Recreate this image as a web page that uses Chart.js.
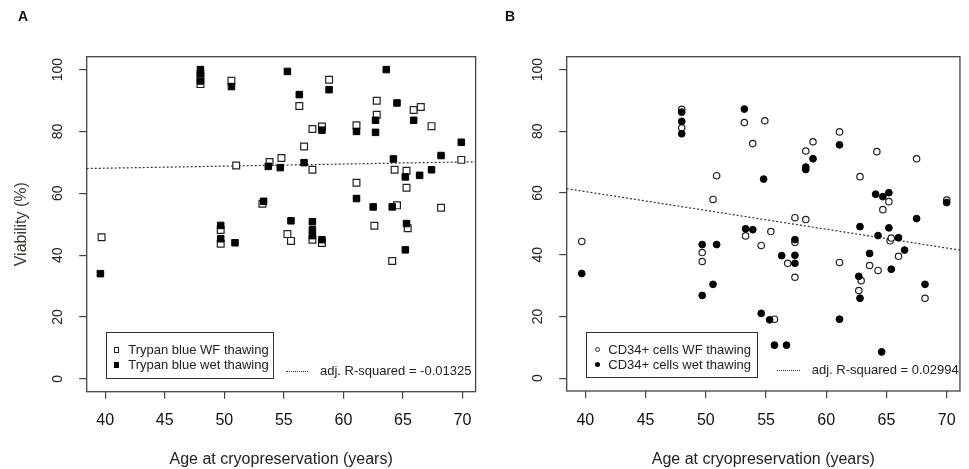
<!DOCTYPE html>
<html>
<head>
<meta charset="utf-8">
<script src="https://cdn.jsdelivr.net/npm/chart.js@4.4.1/dist/chart.umd.min.js"></script>
<style>
  body { margin: 0; background: #fff; font-family: "Liberation Sans", Arial, sans-serif; }
  #wrap { position: relative; width: 969px; height: 469px; overflow: hidden; }
  canvas { position: absolute; top: 0; }
  .panel { position: absolute; top: 8px; font-weight: bold; font-size: 14px; color: #111; }
  .legend { position: absolute; border: 1.3px solid #333; box-sizing: border-box; }
  .item { position: absolute; font-size: 13px; color: #222; line-height: 15px; white-space: nowrap; }
  .mk { position: absolute; box-sizing: border-box; }
  .rsq { position: absolute; font-size: 13px; color: #222; line-height: 15px; white-space: nowrap; }
  .dots { position: absolute; border-top: 1.3px dotted #333; height: 0; }
</style>
</head>
<body>
<div id="wrap">
  <canvas id="graficoA" width="484" height="469" style="left:0"></canvas>
  <canvas id="graficoB" width="479" height="469" style="left:490px"></canvas>
  <div class="panel" style="left:18px">A</div>
  <div class="panel" style="left:505px">B</div>
</div>
<script>
// tick labels
const xTicks = [40, 45, 50, 55, 60, 65, 70];
const yTicks = [0, 20, 40, 60, 80, 100];

// Panel A: Trypan blue
const labelsA = ['Trypan blue WF thawing', 'Trypan blue wet thawing'];
const wfAgeA = [39.7, 48.0, 48.0, 50.6, 51.0, 49.7, 49.7, 53.8, 54.8, 53.2, 55.3, 55.6, 56.3, 56.7, 57.4, 57.4, 57.4, 58.2, 58.2, 58.8, 61.1, 61.1, 62.8, 62.8, 62.6, 64.3, 64.5, 64.1, 65.3, 65.3, 65.4, 65.9, 66.5, 67.4, 68.2, 69.9];
const wfViaA = [45.8, 95.3, 97.8, 96.4, 69.0, 48.1, 43.7, 70.1, 71.4, 56.6, 46.8, 44.6, 88.2, 75.1, 80.8, 67.6, 45.0, 81.6, 43.9, 96.7, 82.0, 63.4, 89.9, 85.4, 49.5, 67.6, 56.1, 38.1, 67.3, 61.8, 48.7, 86.9, 87.9, 81.7, 55.3, 70.8];
const wetAgeA = [39.6, 48.0, 48.0, 48.0, 50.6, 49.7, 49.7, 50.9, 53.3, 53.7, 54.7, 55.3, 55.6, 56.3, 56.7, 57.4, 57.4, 57.4, 58.2, 58.2, 58.8, 61.1, 61.1, 62.7, 62.7, 62.5, 63.6, 64.5, 64.2, 64.1, 65.2, 65.3, 65.2, 65.9, 66.4, 67.4, 68.2, 69.9];
const wetViaA = [34.0, 100, 98.8, 96.3, 94.5, 49.6, 45.3, 44.0, 57.4, 68.7, 68.3, 99.4, 51.1, 91.9, 69.9, 50.8, 48.2, 46.3, 80.4, 45.0, 93.5, 80.0, 58.3, 83.6, 79.7, 55.6, 100, 89.2, 71.1, 55.6, 65.3, 50.2, 41.7, 83.6, 65.8, 67.6, 72.2, 76.5];
const fitAgeA = [38.45, 71.1];
const fitViaA = [68.0, 70.2];
const rsqA = 'adj. R-squared = -0.01325';

// Panel B: CD34+ cells
const labelsB = ['CD34+ cells WF thawing', 'CD34+ cells wet thawing'];
const wfAgeB = [39.7, 48.0, 48.0, 53.2, 54.9, 53.9, 50.9, 50.6, 49.7, 49.7, 53.3, 54.6, 55.4, 55.7, 56.8, 57.4, 57.4, 57.4, 58.3, 58.3, 58.9, 61.1, 61.1, 62.8, 62.7, 62.9, 64.2, 63.6, 64.3, 64.7, 65.2, 65.3, 65.4, 66.0, 67.5, 68.2, 70.0];
const wfViaB = [44.3, 87.1, 81.1, 82.8, 83.4, 76.0, 65.6, 57.9, 40.7, 37.8, 46.1, 43.0, 47.5, 19.1, 37.2, 52.0, 44.0, 32.7, 73.6, 51.4, 76.6, 79.8, 37.5, 65.3, 28.4, 31.6, 73.4, 36.5, 34.9, 54.6, 57.2, 44.5, 45.4, 39.5, 71.1, 25.9, 57.7];
const wetAgeB = [39.7, 48.0, 48.0, 48.0, 53.2, 53.3, 53.9, 54.8, 49.7, 50.9, 49.7, 50.6, 54.6, 55.3, 55.7, 56.7, 56.3, 57.4, 57.4, 57.4, 58.3, 58.3, 58.9, 61.1, 61.1, 62.8, 62.7, 62.8, 63.6, 64.1, 64.7, 65.2, 64.3, 65.2, 66.0, 66.5, 65.4, 64.6, 67.5, 68.2, 70.0];
const wetViaB = [33.9, 86.2, 83.2, 79.2, 87.2, 48.4, 48.1, 64.5, 43.3, 43.3, 26.8, 30.4, 21.0, 18.9, 10.7, 10.7, 39.7, 44.9, 39.8, 37.2, 68.4, 67.6, 71.1, 75.6, 19.1, 49.1, 33.0, 25.9, 40.4, 59.6, 58.8, 60.1, 46.2, 48.7, 45.5, 41.5, 35.3, 8.5, 51.7, 30.4, 56.9];
const fitAgeB = [38.45, 71.1];
const fitViaB = [61.4, 41.5];
const rsqB = 'adj. R-squared = 0.02994';

function pares(xs, ys) {
  return xs.map((x, i) => ({ x: x, y: ys[i] }));
}

// caja alrededor del área del gráfico (estilo R)
const cajaPlugin = {
  id: 'caja',
  afterDatasetsDraw(chart) {
    const a = chart.chartArea;
    const c = chart.ctx;
    c.save();
    c.strokeStyle = '#444';
    c.lineWidth = 1.3;
    c.strokeRect(a.left, a.top, a.right - a.left, a.bottom - a.top);
    c.restore();
  }
};

function crearGrafico(id, cfg) {
  const ctx = document.getElementById(id);
  return new Chart(ctx, {
    type: 'scatter',
    data: {
      datasets: [
        {
          label: cfg.labels[1],
          data: pares(cfg.wetAge, cfg.wetVia),
          pointStyle: cfg.estilo,
          pointRadius: cfg.estilo === 'rect' ? 4.6 : 3.4,
          pointBackgroundColor: '#000',
          pointBorderColor: '#000',
          pointBorderWidth: 1,
          order: 0
        },
        {
          label: cfg.labels[0],
          data: pares(cfg.wfAge, cfg.wfVia),
          pointStyle: cfg.estilo,
          pointRadius: cfg.estilo === 'rect' ? 4.8 : 3.2,
          pointBackgroundColor: '#fff',
          pointBorderColor: '#222',
          pointBorderWidth: 1.2,
          order: 1
        },
        {
          type: 'line',
          label: 'fit',
          data: pares(cfg.fitAge, cfg.fitVia),
          showLine: true,
          pointRadius: 0,
          borderColor: '#333',
          borderWidth: 1.2,
          borderDash: [2, 2],
          fill: false,
          order: 2
        }
      ]
    },
    options: {
      responsive: false,
      animation: false,
      events: [],
      layout: { padding: { top: 56.7, right: cfg.padRight, left: 0, bottom: 0 } },
      plugins: {
        legend: { display: false },
        tooltip: { enabled: false }
      },
      scales: {
        x: {
          type: 'linear',
          min: 38.45,
          max: 71.1,
          afterBuildTicks: (s) => { s.ticks = xTicks.map(v => ({ value: v })); },
          afterFit: (s) => { s.height = cfg.xHeight; },
          border: { display: false },
          grid: { drawOnChartArea: false, drawTicks: true, tickLength: 7, tickColor: '#444', lineWidth: 1.2 },
          ticks: {
            padding: cfg.xPad,
            color: '#111',
            font: { family: 'Liberation Sans', size: 16 },
            maxRotation: 0
          },
          title: {
            display: true,
            text: 'Age at cryopreservation (years)',
            color: '#222',
            font: { family: 'Liberation Sans', size: 16 },
            padding: { top: 0, bottom: 0 }
          }
        },
        y: {
          type: 'linear',
          min: -4.16,
          max: 104.16,
          afterBuildTicks: (s) => { s.ticks = yTicks.map(v => ({ value: v })); },
          afterFit: (s) => { s.width = cfg.yWidth; },
          border: { display: false },
          grid: { drawOnChartArea: false, drawTicks: true, tickLength: 7.5, tickColor: '#444', lineWidth: 1.2 },
          ticks: {
            padding: cfg.yPad,
            color: '#222',
            minRotation: 90,
            maxRotation: 90,
            crossAlign: 'center',
            font: { family: 'Liberation Sans', size: 14 }
          },
          title: {
            display: cfg.yTitle,
            text: 'Viability (%)',
            color: '#3a3a30',
            font: { family: 'Liberation Sans', size: 16 },
            padding: { top: 12, bottom: 0 }
          }
        }
      }
    },
    plugins: [cajaPlugin]
  });
}

// leyenda y texto de R cuadrado como HTML
function leyenda(box, labels, forma) {
  const wrap = document.getElementById('wrap');
  const lg = document.createElement('div');
  lg.className = 'legend';
  lg.style.left = box.left + 'px';
  lg.style.top = box.top + 'px';
  lg.style.width = box.width + 'px';
  lg.style.height = box.height + 'px';
  [17.7, 32.7].forEach((cy, i) => {
    const mk = document.createElement('div');
    mk.className = 'mk';
    const s = forma === 'rect' ? 5.5 : 5;
    mk.style.width = s + 'px';
    mk.style.height = s + 'px';
    mk.style.left = (box.mk - s / 2 - 1) + 'px';
    mk.style.top = (cy - s / 2 - 1) + 'px';
    if (forma !== 'rect') mk.style.borderRadius = '50%';
    if (i === 0) { mk.style.border = '1px solid #222'; mk.style.background = '#fff'; }
    else { mk.style.background = '#000'; }
    lg.appendChild(mk);
    const t = document.createElement('div');
    t.className = 'item';
    t.textContent = labels[i];
    t.style.left = (box.txt - 1) + 'px';
    t.style.top = (cy - 8.5) + 'px';
    lg.appendChild(t);
  });
  wrap.appendChild(lg);

  const d = document.createElement('div');
  d.className = 'dots';
  d.style.left = box.dotL + 'px';
  d.style.width = box.dotW + 'px';
  d.style.top = box.rsqY + 'px';
  wrap.appendChild(d);
  const r = document.createElement('div');
  r.className = 'rsq';
  r.textContent = box.rsq;
  r.style.left = box.rsqX + 'px';
  r.style.top = (box.rsqY - 7.5) + 'px';
  wrap.appendChild(r);
}

document.addEventListener('DOMContentLoaded', function () {
  crearGrafico('graficoA', {
    labels: labelsA, wfAge: wfAgeA, wfVia: wfViaA, wetAge: wetAgeA, wetVia: wetViaA,
    fitAge: fitAgeA, fitVia: fitViaA, estilo: 'rect',
    padRight: 4, yWidth: 86.7, xHeight: 77.3, xPad: 12.4, yPad: 9.7, yTitle: true
  });
  crearGrafico('graficoB', {
    labels: labelsB, wfAge: wfAgeB, wfVia: wfViaB, wetAge: wetAgeB, wetVia: wetViaB,
    fitAge: fitAgeB, fitVia: fitViaB, estilo: 'circle',
    padRight: 9, yWidth: 76.7, xHeight: 78, xPad: 13.1, yPad: 9, yTitle: false
  });
  leyenda({ left: 105.7, top: 332.3, width: 168.3, height: 46.7, mk: 11, txt: 22.6,
            dotL: 285.7, dotW: 22.6, rsqX: 320, rsqY: 370.5, rsq: rsqA }, labelsA, 'rect');
  leyenda({ left: 586, top: 332.3, width: 172.3, height: 46, mk: 11.3, txt: 22.3,
            dotL: 777.3, dotW: 22.7, rsqX: 811.7, rsqY: 369.5, rsq: rsqB }, labelsB, 'circle');
});
</script>
</body>
</html>
